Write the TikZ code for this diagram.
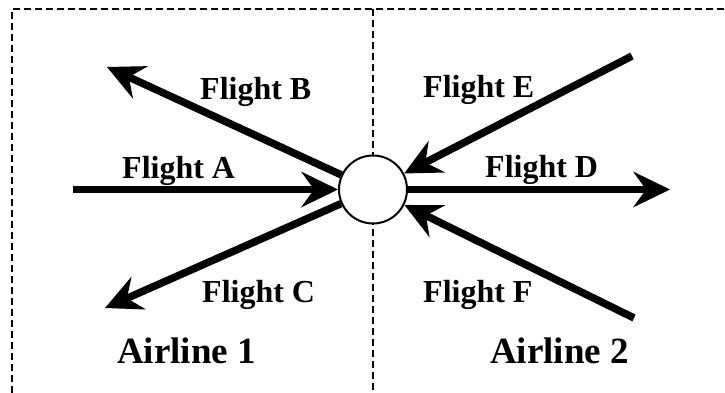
\documentclass[tikz,border=0pt]{standalone}
\usepackage{fontspec}
\setmainfont{Liberation Serif}
\usetikzlibrary{arrows.meta}
\tikzset{
  frame/.style={line width=1.5pt, dash pattern=on 7pt off 4pt},
  flight/.style={line width=7.5pt, -{Stealth[length=37pt, width=36pt, inset=13pt, line width=0pt]}},
  flightlabel/.style={anchor=base west, inner sep=0pt, font=\bfseries\fontsize{32}{38}\selectfont},
  airlinelabel/.style={anchor=base west, inner sep=0pt, font=\bfseries\fontsize{37}{44}\selectfont},
  hubnode/.style={circle, draw, line width=2pt, fill=white, minimum size=68pt, inner sep=0pt}
}
\begin{document}
\begin{tikzpicture}[x=1pt, y=-1pt]
  \useasboundingbox (0,0) rectangle (725,393);

  % dashed frame and divider between the two airlines
  \coordinate (fbl) at (12,393);
  \coordinate (ftl) at (12,9);
  \coordinate (ftr) at (725,9);
  \coordinate (dtop) at (373,9);
  \coordinate (dbot) at (373,393);
  \draw[frame] (fbl) -- (ftl) -- (ftr);
  \draw[frame] (dtop) -- (dbot);

  % hub airport
  \node[hubnode] (hub) at (373,189.5) {};

  % free ends of the flight routes
  \coordinate (aS) at (73,189.5);
  \coordinate (bT) at (107,67);
  \coordinate (cT) at (105,308);
  \coordinate (dT) at (670,189.5);
  \coordinate (eS) at (632,56);
  \coordinate (fS) at (634,318);

  % flight routes
  \draw[flight] (aS) -- (hub);
  \draw[flight] (hub) -- (bT);
  \draw[flight] (hub) -- (cT);
  \draw[flight] (hub) -- (dT);
  \draw[flight] (eS) -- (hub);
  \draw[flight] (fS) -- (hub);

  % labels
  \node[flightlabel] (la) at (122,178) {Flight A};
  \node[flightlabel] (lb) at (200,100) {Flight B};
  \node[flightlabel] (lc) at (202,302) {Flight C};
  \node[flightlabel] (ld) at (485,177) {Flight D};
  \node[flightlabel] (le) at (423,98) {Flight E};
  \node[flightlabel] (lf) at (423,302) {Flight F};
  \node[airlinelabel] (air1) at (117,363) {Airline 1};
  \node[airlinelabel] (air2) at (490,363) {Airline 2};
\end{tikzpicture}
\end{document}
